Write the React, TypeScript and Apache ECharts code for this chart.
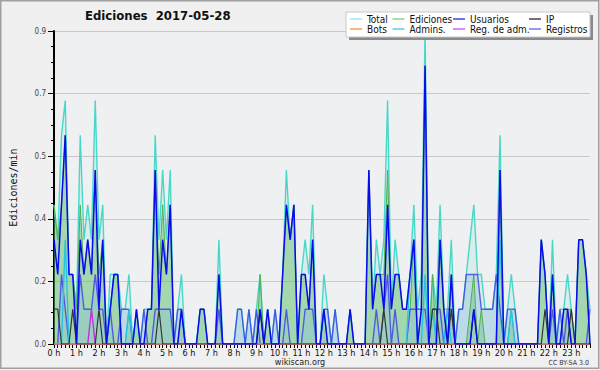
import React, { useEffect, useRef } from 'react';
import * as echarts from 'echarts';

// 10-minute buckets, 6 per hour, 24 hours
const HOUR_LABELS = ['0 h', '1 h', '2 h', '3 h', '4 h', '5 h', '6 h', '7 h', '8 h', '9 h', '10 h', '11 h',
  '12 h', '13 h', '14 h', '15 h', '16 h', '17 h', '18 h', '19 h', '20 h', '21 h', '22 h', '23 h'];
const MINUTES = ['00', '10', '20', '30', '40', '50'];
const CATEGORIES = HOUR_LABELS.flatMap((_, h) => MINUTES.map((m) => `${h}:${m}`));

const Y_MAX = 0.9;
const Y_STEP = 0.18;

const TOTAL = [
  0.4, 0.3, 0.6, 0.7, 0.2, 0.2, 0.1, 0.6, 0.3, 0.4, 0.3, 0.7, 0.3, 0.4, 0, 0.2, 0.2, 0.2, 0.1, 0.1, 0.2, 0, 0.1, 0,
  0.1, 0.1, 0.1, 0.6, 0.3, 0.5, 0.3, 0.5, 0, 0.1, 0.2, 0, 0, 0, 0, 0.1, 0.1, 0, 0, 0, 0.3, 0, 0, 0,
  0, 0.1, 0.1, 0, 0.1, 0, 0.1, 0.2, 0, 0.1, 0, 0.1, 0, 0.2, 0.5, 0.3, 0.4, 0, 0.2, 0.3, 0.2, 0.4, 0, 0,
  0.2, 0.1, 0, 0.1, 0, 0, 0, 0.1, 0, 0, 0, 0, 0.5, 0.1, 0.3, 0.2, 0.3, 0.7, 0.1, 0.3, 0.2, 0.1, 0.1, 0.2,
  0.4, 0.1, 0.2, 0.9, 0, 0.2, 0.1, 0.4, 0.1, 0.1, 0.3, 0, 0.1, 0.1, 0.2, 0.3, 0.4, 0.2, 0.2, 0.1, 0.1, 0.1, 0.2, 0.6,
  0, 0.1, 0.2, 0.1, 0, 0, 0, 0, 0, 0, 0.3, 0.2, 0, 0.3, 0, 0.1, 0.1, 0.2, 0.1, 0, 0.3, 0.3, 0.2, 0.1,
];
const EDICIONES = [
  0.4, 0.3, 0.4, 0.6, 0.2, 0.2, 0.1, 0.4, 0.2, 0.3, 0.2, 0.5, 0.2, 0.3, 0, 0.1, 0.2, 0.2, 0, 0, 0.1, 0, 0.1, 0,
  0, 0.1, 0.1, 0.5, 0.2, 0.4, 0.2, 0.4, 0, 0, 0.1, 0, 0, 0, 0, 0.1, 0.1, 0, 0, 0, 0.2, 0, 0, 0,
  0, 0, 0, 0, 0, 0, 0, 0.2, 0, 0.1, 0, 0, 0, 0.2, 0.4, 0.3, 0.4, 0, 0.2, 0.2, 0.1, 0.3, 0, 0,
  0.1, 0, 0, 0, 0, 0, 0, 0.1, 0, 0, 0, 0, 0.5, 0.1, 0.2, 0.2, 0.2, 0.5, 0.1, 0.2, 0.2, 0.1, 0.1, 0.1,
  0.3, 0, 0.1, 0.8, 0, 0.2, 0, 0.3, 0.1, 0, 0.2, 0, 0, 0, 0, 0.1, 0.2, 0, 0.1, 0, 0, 0, 0, 0.5,
  0, 0, 0.1, 0, 0, 0, 0, 0, 0, 0, 0.3, 0.2, 0, 0.2, 0, 0, 0.1, 0.1, 0.1, 0, 0.3, 0.3, 0.2, 0,
];
const USUARIOS = [
  0.3, 0.2, 0.4, 0.6, 0.2, 0.2, 0, 0.3, 0.2, 0.3, 0.2, 0.5, 0.1, 0.3, 0, 0.1, 0.2, 0.2, 0, 0, 0, 0, 0.1, 0,
  0, 0.1, 0.1, 0.5, 0.1, 0.3, 0.2, 0.4, 0, 0, 0.1, 0, 0, 0, 0, 0.1, 0.1, 0, 0, 0, 0.2, 0, 0, 0,
  0, 0, 0, 0, 0, 0, 0, 0.1, 0, 0.1, 0, 0, 0, 0.2, 0.4, 0.3, 0.4, 0, 0.2, 0.2, 0.1, 0.3, 0, 0,
  0.1, 0, 0, 0, 0, 0, 0, 0.1, 0, 0, 0, 0, 0.5, 0.1, 0.2, 0.2, 0.1, 0.4, 0.1, 0.2, 0.2, 0.1, 0.1, 0.2,
  0.3, 0, 0.1, 0.8, 0, 0, 0, 0.3, 0.1, 0, 0.2, 0, 0, 0, 0, 0, 0.1, 0, 0, 0, 0, 0, 0, 0.5,
  0, 0, 0, 0, 0, 0, 0, 0, 0, 0, 0.3, 0.2, 0, 0.2, 0, 0, 0.1, 0.1, 0, 0, 0.3, 0.3, 0.2, 0,
];
const IP = [
  0.1, 0.1, 0, 0, 0, 0.1, 0, 0, 0, 0, 0, 0, 0.1, 0, 0, 0, 0, 0, 0, 0, 0, 0, 0, 0,
  0, 0, 0, 0, 0.1, 0, 0, 0, 0, 0, 0, 0, 0, 0, 0, 0, 0, 0, 0, 0, 0, 0, 0, 0,
  0, 0, 0, 0, 0, 0, 0, 0.1, 0, 0, 0, 0, 0, 0, 0, 0, 0, 0, 0, 0, 0, 0, 0, 0,
  0, 0, 0, 0, 0, 0, 0, 0, 0, 0, 0, 0, 0, 0, 0, 0, 0.1, 0, 0, 0, 0, 0, 0, 0,
  0, 0, 0, 0, 0, 0.1, 0.1, 0, 0, 0, 0.1, 0, 0, 0, 0, 0, 0.1, 0, 0, 0, 0, 0, 0, 0,
  0, 0, 0, 0, 0, 0, 0, 0, 0, 0, 0, 0.1, 0, 0, 0, 0, 0, 0, 0.1, 0, 0, 0, 0, 0,
];
const BOTS = [
  0, 0, 0, 0, 0, 0, 0, 0, 0, 0, 0, 0, 0, 0, 0, 0, 0, 0, 0, 0, 0, 0, 0, 0,
  0, 0, 0, 0, 0, 0, 0, 0, 0, 0, 0, 0, 0, 0, 0, 0, 0, 0, 0, 0, 0, 0, 0, 0,
  0, 0, 0, 0, 0, 0, 0, 0, 0, 0, 0, 0, 0, 0, 0, 0, 0, 0, 0, 0, 0, 0, 0, 0,
  0, 0, 0, 0, 0, 0, 0, 0, 0, 0, 0, 0, 0, 0, 0, 0, 0, 0, 0, 0, 0, 0, 0, 0,
  0, 0, 0, 0, 0, 0, 0, 0, 0, 0, 0, 0, 0, 0, 0, 0, 0, 0, 0, 0, 0, 0, 0, 0,
  0, 0, 0, 0, 0, 0, 0, 0, 0, 0, 0, 0, 0, 0, 0, 0, 0, 0, 0, 0, 0, 0, 0, 0,
];
const ADMINS = [
  0, 0, 0, 0.3, 0, 0, 0, 0, 0, 0, 0, 0, 0, 0, 0, 0.1, 0.2, 0.2, 0, 0, 0.1, 0, 0, 0,
  0, 0, 0, 0, 0, 0, 0, 0, 0, 0, 0, 0, 0, 0, 0, 0, 0, 0, 0, 0, 0, 0, 0, 0,
  0, 0, 0, 0, 0, 0, 0, 0, 0, 0, 0, 0, 0, 0, 0, 0, 0, 0, 0, 0, 0, 0, 0, 0,
  0, 0, 0, 0, 0, 0, 0, 0, 0, 0, 0, 0, 0, 0, 0, 0, 0, 0, 0, 0, 0, 0, 0, 0.2,
  0.3, 0, 0, 0.2, 0, 0.1, 0, 0, 0, 0.1, 0, 0, 0, 0, 0, 0, 0, 0, 0, 0, 0, 0, 0, 0.3,
  0, 0, 0.1, 0, 0, 0, 0, 0, 0, 0, 0, 0, 0, 0, 0, 0, 0, 0, 0, 0, 0, 0, 0, 0,
];
const REG_ADM = [
  0, 0, 0, 0, 0, 0, 0, 0, 0, 0, 0.1, 0, 0, 0, 0, 0, 0, 0, 0, 0, 0, 0, 0, 0,
  0, 0, 0, 0, 0, 0, 0, 0, 0, 0, 0, 0, 0, 0, 0, 0, 0, 0, 0, 0, 0, 0, 0, 0,
  0, 0, 0, 0, 0, 0, 0, 0, 0, 0, 0, 0, 0, 0, 0, 0, 0, 0, 0, 0, 0, 0, 0, 0,
  0, 0, 0, 0, 0, 0, 0, 0, 0, 0, 0, 0, 0, 0, 0, 0, 0, 0, 0, 0, 0, 0, 0, 0,
  0, 0, 0, 0, 0, 0, 0, 0, 0, 0, 0, 0, 0, 0, 0, 0, 0, 0, 0, 0, 0, 0, 0, 0,
  0, 0, 0, 0, 0, 0, 0, 0, 0, 0, 0, 0, 0, 0, 0, 0, 0, 0, 0, 0, 0, 0, 0, 0,
];
const REGISTROS = [
  0, 0, 0.2, 0.1, 0, 0, 0, 0.2, 0.1, 0.1, 0.1, 0.2, 0.1, 0.1, 0, 0.1, 0, 0, 0.1, 0.1, 0.1, 0, 0, 0,
  0.1, 0, 0, 0.1, 0.1, 0.1, 0.1, 0.1, 0, 0.1, 0.1, 0, 0, 0, 0, 0, 0, 0, 0, 0, 0.1, 0, 0, 0,
  0, 0.1, 0.1, 0, 0.1, 0, 0.1, 0, 0, 0, 0, 0.1, 0, 0, 0.1, 0, 0, 0, 0, 0.1, 0.1, 0.1, 0, 0,
  0.1, 0.1, 0, 0.1, 0, 0, 0, 0, 0, 0, 0, 0, 0, 0, 0.1, 0, 0.1, 0.2, 0, 0.1, 0, 0, 0, 0.1,
  0.1, 0.1, 0.1, 0.1, 0, 0.1, 0.1, 0.1, 0, 0.1, 0.1, 0, 0.1, 0.1, 0.2, 0.2, 0.2, 0.2, 0.1, 0.1, 0.1, 0.1, 0.2, 0.1,
  0, 0.1, 0.1, 0.1, 0, 0, 0, 0, 0, 0, 0, 0, 0, 0.1, 0, 0.1, 0, 0.1, 0, 0, 0, 0, 0, 0.1,
];

const LEGEND_COLUMNS = [
  ['Total', 'Bots'],
  ['Ediciones', 'Admins.'],
  ['Usuarios', 'Reg. de adm.'],
  ['IP', 'Registros'],
];
const LEGEND_LEFT = [350, 392.5, 453, 529];

const FONT = "'DejaVu Sans Condensed', 'Liberation Sans', sans-serif";

export default function App() {
  const ref = useRef<HTMLDivElement>(null);

  useEffect(() => {
    document.body.style.margin = '0';
    const chart = echarts.init(ref.current as HTMLDivElement, null, { renderer: 'svg' });

    const mk = (name: string, data: number[], line: string, width: number, legendColor: string, area?: string) => ({
      name,
      type: 'line',
      data,
      symbol: 'none',
      showSymbol: false,
      silent: true,
      lineStyle: { color: line, width },
      itemStyle: { color: legendColor },
      areaStyle: area ? { color: area, opacity: 1 } : undefined,
      emphasis: { disabled: true },
    });

    chart.setOption({
      animation: false,
      backgroundColor: '#f0f0f0',
      title: {
        text: 'Ediciones  2017-05-28',
        left: 85,
        top: 9,
        padding: 0,
        textStyle: { fontSize: 13, fontWeight: 'bold', fontFamily: FONT, color: '#111' },
      },
      grid: { left: 46, right: 10, top: 31, bottom: 26, show: true, backgroundColor: '#eef0f2', borderWidth: 0 },
      xAxis: {
        type: 'category',
        data: CATEGORIES,
        boundaryGap: false,
        axisLine: { lineStyle: { color: '#000', width: 2 } },
        axisTick: { show: true, interval: 0, length: 4, lineStyle: { color: '#000', width: 1 } },
        axisLabel: {
          interval: MINUTES.length - 1,
          formatter: (_v: string, i: number) => HOUR_LABELS[Math.floor(i / MINUTES.length)],
          fontSize: 9,
          fontFamily: FONT,
          color: '#111',
          margin: 4,
        },
        splitLine: { show: false },
      },
      yAxis: {
        type: 'value',
        min: 0,
        max: Y_MAX,
        interval: Y_STEP,
        name: 'Ediciones/min',
        nameLocation: 'middle',
        nameGap: 36,
        nameRotate: 90,
        nameTextStyle: { fontFamily: "'DejaVu Sans Mono', monospace", fontSize: 10, color: '#111' },
        axisLine: { show: true, lineStyle: { color: '#000', width: 2 } },
        axisTick: { show: true, length: 6, lineStyle: { color: '#000' } },
        minorTick: { show: true, splitNumber: 4, length: 3, lineStyle: { color: '#000' } },
        axisLabel: { formatter: (v: number) => v.toFixed(1), fontSize: 8, color: '#444', margin: 8, fontFamily: FONT },
        splitLine: { show: true, lineStyle: { color: '#c8c8c8', width: 1 } },
      },
      legend: LEGEND_COLUMNS.map((names, k) => ({
        data: names,
        orient: 'vertical',
        left: LEGEND_LEFT[k],
        top: 14,
        itemWidth: 12,
        itemHeight: 1.5,
        itemGap: 0,
        padding: 0,
        icon: 'rect',
        selectedMode: false,
        z: 20,
        textStyle: { fontSize: 10, fontFamily: FONT, color: '#111', lineHeight: 10, padding: 0 },
      })),
      graphic: {
        elements: [
          {
            type: 'rect', silent: true, z: 1,
            shape: { x: 0.75, y: 0.75, width: 598, height: 367.5 },
            style: { fill: 'none', stroke: '#a0a0a0', lineWidth: 1.5 },
          },
          {
            type: 'rect', silent: true, z: 15,
            shape: { x: 349, y: 15, width: 244, height: 25 },
            style: { fill: '#8a8a8a' },
          },
          {
            type: 'rect', silent: true, z: 16,
            shape: { x: 346, y: 12, width: 244, height: 25 },
            style: { fill: '#ffffff', stroke: '#c8c8c8', lineWidth: 1 },
          },
          {
            type: 'text', silent: true, z: 16, x: 300, y: 362,
            style: {
              text: 'wikiscan.org', fontSize: 9, fontFamily: FONT, fill: '#222',
              align: 'center', verticalAlign: 'middle', textAlign: 'center', textVerticalAlign: 'middle',
            },
          },
          {
            type: 'text', silent: true, z: 16, x: 589, y: 362.5,
            style: {
              text: 'CC BY-SA 3.0', fontSize: 7, fontFamily: FONT, fill: '#333',
              align: 'right', verticalAlign: 'middle', textAlign: 'right', textVerticalAlign: 'middle',
            },
          },
        ],
      },
      series: [
        mk('Total', TOTAL, '#48d8c8', 1.4, '#a8e6df', 'rgba(64,208,200,0.1)'),
        mk('Ediciones', EDICIONES, '#50b050', 1, '#8fd08f', 'rgba(95,190,95,0.45)'),
        mk('Registros', REGISTROS, 'rgba(60,60,235,0.8)', 1.4, '#7878f0', 'rgba(140,195,220,0.4)'),
        mk('Admins.', ADMINS, '#28c4e0', 1.4, '#55cfe6'),
        mk('Reg. de adm.', REG_ADM, '#c030e0', 1.4, '#d066e6'),
        mk('Bots', BOTS, '#f09030', 1.4, '#f0a050'),
        mk('IP', IP, '#333333', 1.2, '#444444'),
        mk('Usuarios', USUARIOS, '#0a0aee', 1.5, '#4444dd'),
      ],
    });

    return () => chart.dispose();
  }, []);

  return <div ref={ref} style={{ width: 600, height: 370, position: 'absolute', left: 0, top: 0 }} />;
}
